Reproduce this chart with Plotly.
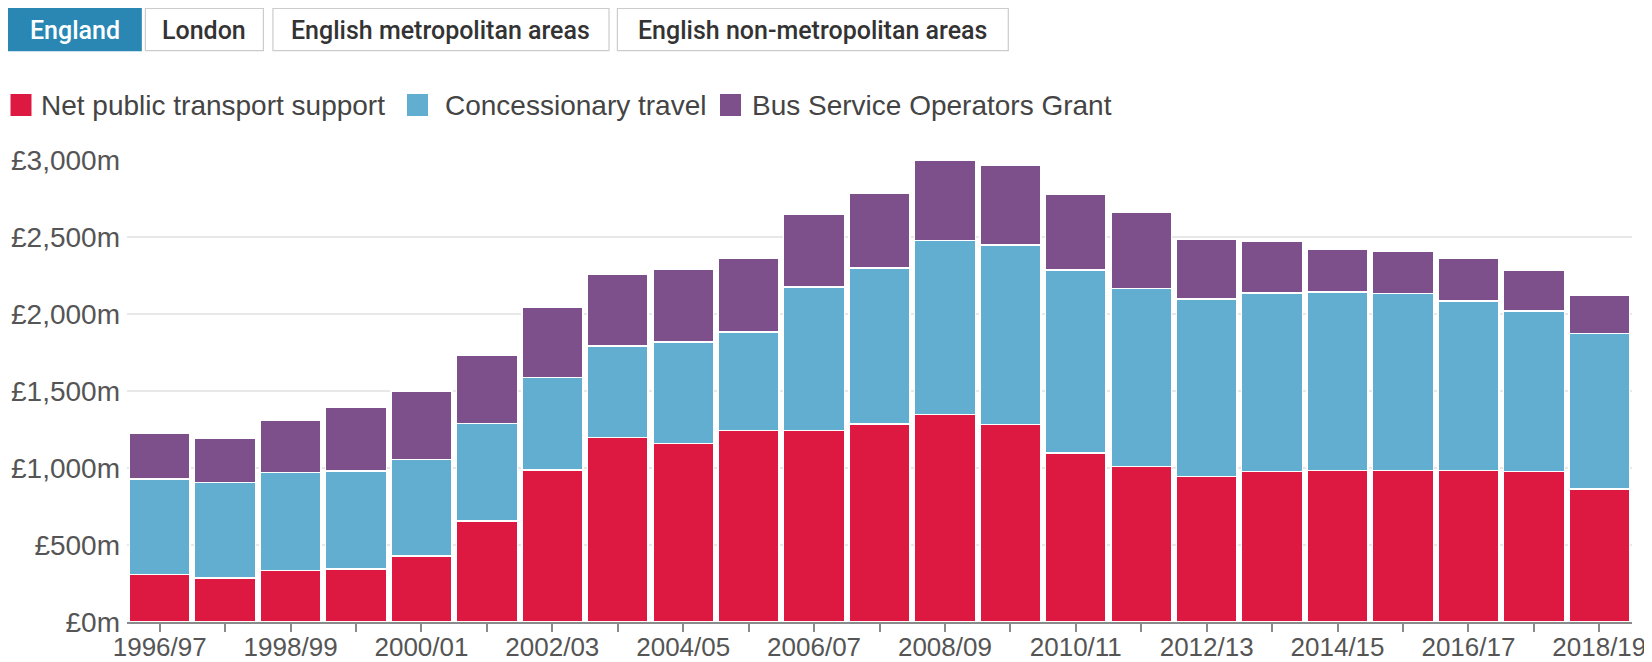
import plotly.graph_objects as go

years = ["1996/97", "1997/98", "1998/99", "1999/00", "2000/01", "2001/02", "2002/03",
         "2003/04", "2004/05", "2005/06", "2006/07", "2007/08", "2008/09", "2009/10",
         "2010/11", "2011/12", "2012/13", "2013/14", "2014/15", "2015/16", "2016/17",
         "2017/18", "2018/19"]
net_support = [307, 285, 333, 343, 430, 657, 987, 1199, 1160, 1242, 1242, 1285, 1348,
               1283, 1099, 1009, 944, 976, 983, 983, 983, 976, 864]
concessionary = [622, 620, 637, 638, 626, 632, 600, 594, 659, 641, 933, 1013, 1129,
                 1166, 1188, 1155, 1155, 1162, 1160, 1149, 1101, 1043, 1009]
bsog = [296, 289, 337, 416, 445, 443, 454, 468, 470, 478, 475, 488, 519, 514, 493,
        499, 389, 333, 280, 274, 275, 264, 252]
series_names = ["Net public transport support", "Concessionary travel", "Bus Service Operators Grant"]
series_colors = ["#DE1941", "#61AED0", "#7E508B"]
y_tick_vals = [0, 500, 1000, 1500, 2000, 2500, 3000]
y_tick_text = ["£0m", "£500m", "£1,000m", "£1,500m", "£2,000m", "£2,500m", "£3,000m"]
x_tick_text = [y if i % 2 == 0 else "" for i, y in enumerate(years)]
buttons = ["England", "London", "English metropolitan areas", "English non-metropolitan areas"]

# The page body has an 8px margin, so the figure is drawn 8px in from the window edge.
OFF = 8
W, H = 1652 - OFF, 662 - OFF
ML, MR, MT, MB = 127 - OFF, 20, 152, 40
PW, PH = W - ML - MR, H - MT - MB

def px(x):  # window pixel -> paper fraction
    return (x - OFF - ML) / PW

def py(y):
    return (H - MB - (y - OFF)) / PH

FONT = "Liberation Sans, Arial, sans-serif"
BTN_FONT = "Roboto, Liberation Sans, Arial, sans-serif"

fig = go.Figure()
for name, vals, col in zip(series_names, [net_support, concessionary, bsog], series_colors):
    fig.add_trace(go.Bar(x=years, y=vals, name=name, marker_color=col,
                         marker_line_color="white", marker_line_width=1.5,
                         showlegend=False))

shapes = []
annotations = []

# Buttons
btn_boxes = [(8.4, 141.2), (145.4, 263.4), (272.9, 609.0), (617.4, 1008.3)]
for i, (label, (x0, x1)) in enumerate(zip(buttons, btn_boxes)):
    active = i == 0
    shapes.append(dict(type="rect", xref="paper", yref="paper",
                       x0=px(x0), x1=px(x1), y0=py(50.6), y1=py(8.4),
                       fillcolor="#2A87B3" if active else "white",
                       line=dict(color="#2A87B3" if active else "#CCCCCC", width=1.2),
                       layer="above"))
    annotations.append(dict(xref="paper", yref="paper", x=px((x0 + x1) / 2), y=py(30),
                            text=label, showarrow=False, xanchor="center", yanchor="middle",
                            font=dict(family=BTN_FONT, size=25, weight=500,
                                      color="white" if active else "#333333")))

# Legend
legend_items = [(10.5, 40.0), (407.0, 443.6), (720.0, 751.0)]
for name, col, (sx, tx) in zip(series_names, series_colors, legend_items):
    shapes.append(dict(type="rect", xref="paper", yref="paper",
                       x0=px(sx), x1=px(sx + 21), y0=py(116), y1=py(94),
                       fillcolor=col, line=dict(width=0), layer="above"))
    annotations.append(dict(xref="paper", yref="paper", x=px(tx - 1), y=py(105.5),
                            text=name, showarrow=False, xanchor="left", yanchor="middle",
                            font=dict(family=FONT, size=28, color="#444444")))

fig.update_layout(
    width=W, height=H,
    margin=dict(l=ML, r=MR, t=MT, b=MB, pad=0, autoexpand=False),
    barmode="stack", bargap=0.07,
    plot_bgcolor="white", paper_bgcolor="white",
    font=dict(family=FONT, size=28, color="#555555"),
    shapes=shapes, annotations=annotations,
    xaxis=dict(type="category", tickmode="array", tickvals=years, ticktext=x_tick_text,
               ticks="outside", ticklen=8, tickwidth=1.5, tickcolor="#8A8A8A",
               showline=True, linecolor="#8A8A8A", linewidth=2, automargin=False,
               showgrid=False, tickfont=dict(size=26, color="#555555"),
               ticklabelstandoff=-7,
               range=[-0.5, len(years) - 0.5]),
    yaxis=dict(range=[0, 3000], tickmode="array", tickvals=y_tick_vals, ticktext=y_tick_text,
               showgrid=True, gridcolor="#E8E8E8", gridwidth=1.5, automargin=False,
               zeroline=False, showline=False, ticks="",
               tickfont=dict(size=28, color="#555555"), ticklabelstandoff=6),
)

fig.write_html("out.html")
